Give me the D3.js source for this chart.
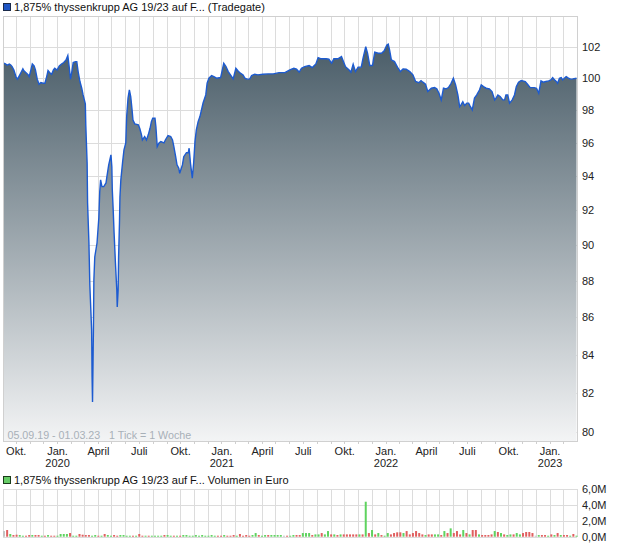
<!DOCTYPE html>
<html><head><meta charset="utf-8">
<script src="https://cdn.jsdelivr.net/npm/d3@7"></script>
<style>
html,body{margin:0;padding:0;background:#fff;}
svg text{font-family:"Liberation Sans",Arial,sans-serif;}
</style></head>
<body>
<svg id="c" width="620" height="546"></svg>
<script>
// ---------- DATA ----------
const startDate = "2019-09-05";
const endDate = "2023-03-02";
const priceTitle = "1,875% thyssenkrupp AG 19/23 auf F... (Tradegate)";
const volumeTitle = "1,875% thyssenkrupp AG 19/23 auf F... Volumen in Euro";
const rangeNote = "05.09.19 - 01.03.23   1 Tick = 1 Woche";
// days after startDate
const priceDays = [0,4,7,12,15,18,22,27,30,34,39,42,44,49,54,56,59,63,67,70,74,78,82,87,91,95,98,102,106,110,113,118,123,128,133,138,142,145,148,151,154,159,162,165,169,173,176,181,182,185,186,189,191,195,196,197,199,200,202,207,211,213,215,218,222,227,229,233,238,240,241,243,245,248,251,252,254,255,257,258,260,264,267,271,273,276,279,282,285,287,291,299,302,306,308,313,317,321,325,328,331,336,338,341,345,349,356,359,365,371,375,378,382,385,389,391,397,400,406,410,412,415,419,422,425,428,432,436,443,449,452,456,462,467,473,482,485,489,494,499,504,510,516,521,526,532,536,541,547,551,558,565,576,588,599,612,625,636,645,651,657,662,669,679,686,694,699,706,717,723,729,734,743,751,756,760,768,772,777,782,788,795,799,805,809,814,820,825,833,840,846,852,855,858,862,869,877,882,888,895,903,910,916,923,928,932,938,943,951,958,963,968,973,978,984,989,995,1000,1005,1010,1014,1017,1021,1025,1030,1034,1037,1042,1047,1052,1058,1062,1067,1073,1080,1086,1092,1095,1099,1104,1110,1114,1117,1121,1125,1131,1136,1140,1145,1151,1160,1165,1171,1180,1185,1190,1195,1200,1206,1212,1217,1221,1225,1228,1232,1236,1240,1243,1247,1251,1256,1261,1266,1274];
const priceValues = [100.95,100.90,100.82,100.89,100.84,100.73,100.52,100.06,99.94,100.15,100.42,100.59,100.48,100.35,100.21,100.10,100.42,100.90,100.78,100.52,99.94,99.62,99.72,99.68,99.68,100.10,100.48,100.35,100.25,100.52,100.63,100.52,100.78,100.90,100.99,101.16,101.44,100.73,99.94,100.42,100.99,101.05,101.05,100.42,99.79,99.37,98.95,98.39,97.10,94.78,92.43,90.13,87.77,85.32,82.82,81.53,85.32,88.05,89.34,90.13,91.56,93.08,93.79,93.39,93.39,93.61,93.98,94.68,95.28,94.56,93.20,92.03,90.70,89.00,87.50,86.56,87.50,89.34,91.33,92.78,93.79,94.87,95.58,96.00,97.61,98.75,99.26,98.85,98.02,97.40,97.16,97.10,96.89,96.49,96.18,96.38,96.18,96.49,96.89,97.30,97.51,97.51,96.99,95.78,96.00,96.08,96.00,96.18,96.44,96.38,96.18,95.78,95.17,94.68,94.48,94.18,94.68,95.17,95.41,95.41,95.68,94.78,93.89,94.78,96.08,96.79,97.30,97.61,98.45,98.95,99.68,100.00,100.16,100.10,100.00,100.04,100.42,100.95,100.73,100.42,100.21,99.96,100.63,100.46,100.32,100.21,100.00,99.94,99.96,100.16,100.25,100.21,100.25,100.27,100.27,100.35,100.35,100.52,100.63,100.57,100.38,100.63,100.73,100.80,100.67,100.90,101.31,101.23,101.23,101.21,100.95,101.23,101.23,101.37,101.01,100.73,100.52,100.38,100.89,100.42,100.70,100.70,101.27,102.01,101.59,100.80,100.80,101.65,101.59,101.59,101.74,102.12,102.17,101.80,101.16,101.05,100.63,100.42,100.59,100.57,100.42,100.21,99.79,99.72,99.85,99.75,99.62,99.16,99.37,99.41,99.33,99.06,98.64,99.37,99.33,99.41,99.68,100.00,99.58,98.95,98.22,98.33,98.53,98.29,98.44,98.44,98.27,98.02,98.75,98.95,99.26,99.58,99.47,99.37,99.33,99.16,98.64,98.75,98.95,98.85,98.64,98.64,98.95,98.95,98.44,98.64,98.95,99.47,99.75,99.85,99.79,99.62,99.41,99.41,99.37,99.06,99.83,99.75,99.79,99.83,99.89,100.04,99.89,99.83,99.68,100.00,100.04,99.89,100.00,100.10,100.00,99.94,99.96,100.00];
// weekly volume (million EUR), one bar per week from startDate
const volumeValues = [0.71,0.84,0.34,0.21,0.25,0.21,0.08,0.08,0.21,0.21,0.21,0.21,0.12,0.08,0.21,0.08,0.08,0.08,0.34,0.34,0.34,0.46,0.08,0.08,0.34,0.25,0.21,0.21,0.08,0.21,0.08,0.08,0.34,0.21,0.08,0.21,0.08,0.21,0.21,0.08,0.08,0.08,0.08,0.34,0.08,0.08,0.08,0.08,0.08,0.08,0.08,0.21,0.21,0.08,0.08,0.08,0.08,0.21,0.21,0.08,0.08,0.21,0.08,0.21,0.08,0.08,0.21,0.08,0.08,0.08,0.21,0.08,0.08,0.21,0.08,0.34,0.08,0.21,0.08,0.21,0.46,0.21,0.08,0.21,0.21,0.21,0.21,0.21,0.21,0.08,0.04,0.08,0.21,0.21,0.21,0.46,0.46,0.46,0.21,0.29,0.29,0.46,0.29,0.71,0.29,0.29,0.21,0.29,0.29,0.29,0.29,0.29,0.29,0.29,0.29,4.40,0.46,0.84,0.29,0.46,0.21,0.04,0.46,0.29,0.46,0.55,0.55,0.46,0.71,0.29,0.46,0.71,0.46,0.29,0.21,0.29,0.29,0.29,0.29,0.21,0.71,0.46,1.05,0.46,0.71,0.29,0.84,0.46,0.29,0.84,0.84,0.29,0.21,0.21,0.21,0.29,0.71,0.59,0.46,0.29,0.21,0.29,0.29,0.46,0.29,0.46,0.59,0.59,0.46,0.04,0.21,0.21,0.21,0.04,0.29,0.21,0.46,0.21,0.21,0.21,0.04,0.34,0.04];
// u = up week, d = down week, n = unchanged
const volumeDir = [
  "n","d","u","d","d","u","u","d","d","u",
  "d","d","u","d","u","d","d","u","u","u",
  "u","d","u","u","d","d","d","d","u","u",
  "d","u","d","u","u","d","d","u","u","u",
  "u","d","u","d","d","u","d","u","u","u",
  "u","d","u","u","d","u","d","u","u","u",
  "u","u","u","u","u","u","u","u","d","d",
  "u","d","d","d","u","d","d","d","d","u",
  "u","d","u","u","d","u","u","u","u","n",
  "d","u","u","d","d","u","u","u","d","u",
  "u","d","u","u","d","u","d","u","d","d",
  "d","d","d","u","d","u","d","u","d","u",
  "d","u","u","d","d","d","d","u","d","d",
  "d","d","d","d","u","d","d","u","u","d",
  "u","d","u","d","d","d","u","d","u","d",
  "d","u","d","d","d","d","u","d","u","d",
  "u","u","d","u","u","d","d","d","d","n",
  "u","d","d","u","d","u","d","u","d","d",
  "u","d","u"];
const yTicks = [80,82,84,86,88,90,92,94,96,98,100,102];
const volTicks = [0,2,4,6];
const volTickLabels = ["0,0M","2,0M","4,0M","6,0M"];
const monthNames = ["Jan.","Feb.","März","April","Mai","Juni","Juli","Aug.","Sep.","Okt.","Nov.","Dez."];

// ---------- LAYOUT ----------
const svg = d3.select("#c");
const L = 3, R = 577, T = 16, B = 441;
const VT = 489, VB = 536.7;
const parse = d3.timeParse("%Y-%m-%d");
const t0 = parse(startDate), t1 = parse(endDate);
const addDays = (d, n) => d3.timeDay.offset(d, n);

const x = d3.scaleTime().domain([t0, t1]).range([4, 576.5]);
const y = d3.scaleLog().domain([79.55, 104.0]).range([B, T]);
const yv = d3.scaleLinear().domain([0, 6]).range([VB, VT]);

const price = priceDays.map((d, i) => ({date: addDays(t0, d), v: priceValues[i]}));
const vol = volumeValues.map((v, i) => ({date: addDays(t0, 7 * i), v, dir: volumeDir[i] || "n"}));

const months = d3.timeMonth.range(d3.timeMonth.ceil(t0), addDays(t1, 1)).filter(m => x(m) > L + 1 && x(m) < R - 1);
const grid = "#dcdcdc";

// ---------- PRICE PANEL ----------
const defs = svg.append("defs");
const grad = defs.append("linearGradient").attr("id", "g").attr("gradientUnits", "userSpaceOnUse")
  .attr("x1", 0).attr("x2", 0).attr("y1", T).attr("y2", B);
grad.append("stop").attr("offset", 0).attr("stop-color", "#3e525e");
grad.append("stop").attr("offset", 0.4).attr("stop-color", "#86939b");
grad.append("stop").attr("offset", 1).attr("stop-color", "#f3f4f5");

const gGrid = svg.append("g").attr("stroke", grid).attr("stroke-width", 1).attr("shape-rendering", "crispEdges");
gGrid.selectAll(".vx").data(months).join("line")
  .attr("x1", d => Math.round(x(d)) + 0.5).attr("x2", d => Math.round(x(d)) + 0.5).attr("y1", T).attr("y2", B);
gGrid.selectAll(".hy").data(yTicks).join("line")
  .attr("x1", L).attr("x2", R).attr("y1", d => Math.round(y(d)) + 0.5).attr("y2", d => Math.round(y(d)) + 0.5);

const area = d3.area().x(d => x(d.date)).y0(B).y1(d => y(d.v)).curve(d3.curveLinear);
const line = d3.line().x(d => x(d.date)).y(d => y(d.v)).curve(d3.curveLinear);
svg.append("path").datum(price).attr("d", area).attr("fill", "url(#g)");
svg.append("path").datum(price).attr("d", line).attr("fill", "none").attr("stroke", "#1d5bd0").attr("stroke-width", 1.4).attr("stroke-linejoin", "miter");

svg.append("rect").attr("x", L + 0.5).attr("y", T + 0.5).attr("width", R - L).attr("height", B - T)
  .attr("fill", "none").attr("stroke", "#d0d0d0").attr("shape-rendering", "crispEdges");

// x ticks
svg.append("g").attr("stroke", "#cfcfcf").attr("shape-rendering", "crispEdges").selectAll("line").data(months).join("line")
  .attr("x1", d => Math.round(x(d)) + 0.5).attr("x2", d => Math.round(x(d)) + 0.5).attr("y1", B).attr("y2", B + 3);

// y labels
svg.append("g").selectAll("text").data(yTicks).join("text")
  .attr("x", 582).attr("y", d => y(d)).attr("dy", "0.35em").attr("font-size", 11).attr("fill", "#222").text(d => d);

// x labels (quarters)
const quarters = months.filter(m => m.getMonth() % 3 === 0);
const xl = svg.append("g").attr("font-size", 11).attr("fill", "#222").attr("text-anchor", "middle");
xl.selectAll(".m").data(quarters).join("text").attr("x", d => x(d) + 0.5).attr("y", 455).text(d => monthNames[d.getMonth()]);
xl.selectAll(".yr").data(quarters.filter(m => m.getMonth() === 0)).join("text").attr("x", d => x(d) + 0.5).attr("y", 467).text(d => d.getFullYear());

svg.append("text").attr("x", 7.5).attr("y", 439).attr("font-size", 10.7).attr("fill", "#a8b0b8").attr("xml:space", "preserve").text(rangeNote);

// legend
svg.append("rect").attr("x", 3.5).attr("y", 3.5).attr("width", 7).attr("height", 7).attr("fill", "#1f55c4").attr("stroke", "#1a2a4a");
svg.append("text").attr("x", 14).attr("y", 11).attr("font-size", 11).attr("fill", "#111").text(priceTitle);

// ---------- VOLUME PANEL ----------
svg.append("rect").attr("x", 3.5).attr("y", 476.5).attr("width", 7).attr("height", 7).attr("fill", "#66cc66").attr("stroke", "#1a3a1a");
svg.append("text").attr("x", 14).attr("y", 484).attr("font-size", 11).attr("fill", "#111").text(volumeTitle);

const vg = svg.append("g").attr("stroke", grid).attr("shape-rendering", "crispEdges");
vg.selectAll(".vx").data(months).join("line")
  .attr("x1", d => Math.round(x(d)) + 0.5).attr("x2", d => Math.round(x(d)) + 0.5).attr("y1", VT).attr("y2", VB);
vg.selectAll(".hy").data(volTicks).join("line")
  .attr("x1", L).attr("x2", R).attr("y1", d => Math.round(yv(d)) + 0.5).attr("y2", d => Math.round(yv(d)) + 0.5);
vg.append("line").attr("x1", L + 0.5).attr("x2", L + 0.5).attr("y1", VT).attr("y2", VB);
vg.append("line").attr("x1", R + 0.5).attr("x2", R + 0.5).attr("y1", VT).attr("y2", VB);

const colors = {u: "#5fd35f", d: "#e05f5f", n: "#c4c4c4"};
svg.append("g").selectAll("rect").data(vol).join("rect")
  .attr("x", d => x(d.date) - 1).attr("width", 2)
  .attr("y", d => Math.min(yv(d.v), VB - 1)).attr("height", d => Math.max(VB - yv(d.v), 1))
  .attr("fill", d => colors[d.dir]);

svg.append("g").selectAll("text").data(volTicks).join("text")
  .attr("x", 582).attr("y", d => yv(d)).attr("dy", "0.35em").attr("font-size", 11).attr("fill", "#222")
  .text((d, i) => volTickLabels[i]);
</script>
</body></html>
